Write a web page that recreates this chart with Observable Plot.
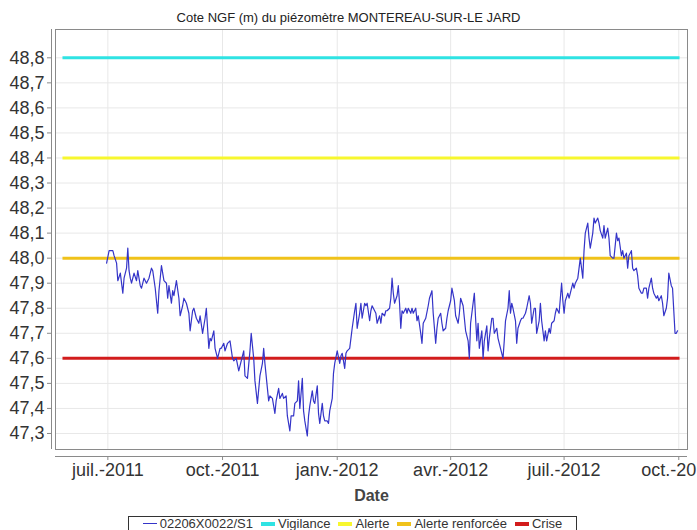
<!DOCTYPE html>
<html>
<head>
<meta charset="utf-8">
<script src="https://cdn.jsdelivr.net/npm/d3@7"></script>
<script src="https://cdn.jsdelivr.net/npm/@observablehq/plot@0.6"></script>
<style>
  html, body { margin: 0; padding: 0; background: #fff; }
  body { font-family: "Liberation Sans", Arial, sans-serif; width: 697px; height: 530px; overflow: hidden; position: relative; }
  #title { height: 24px; box-sizing: border-box; padding-top: 11px; line-height: 14px; text-align: center; font-size: 13px; color: #222; }
  #legend { position: absolute; left: 128px; top: 516px; width: 449px; box-sizing: border-box; border: 1px solid #333; display: flex; justify-content: center; align-items: center; gap: 8px; font-size: 13px; line-height: 13px; color: #333; height: 15px; padding-top: 0; }
  .item { display: flex; align-items: center; gap: 3px; white-space: nowrap; }
  .sym { display: inline-block; width: 14px; }
</style>
</head>
<body>
<div id="title">Cote NGF (m) du piézomètre MONTEREAU-SUR-LE JARD</div>
<div id="chart"></div>
<div id="legend"></div>
<script>
// ---- data ----
const seriesName = "02206X0022/S1";
const seriesStart = "2011-07-01";           // day 0 of the series
const days = [-1,1,3,4,5,7,8,10,12,13,15,16,17,18,19,21,23,24,26,27,29,31,33,35,36,38,40,41,42,43,45,47,48,49,51,52,53,55,57,58,60,61,63,65,66,68,69,71,73,74,76,78,79,81,82,83,85,86,88,89,90,
91,93,94,96,98,100,101,103,105,107,109,110,112,114,115,117,118,120,122,124,125,126,128,129,130,132,134,135,137,138,140,141,143,144,146,147,149,150,152,153,154,156,157,158,160,161,162,164,165,166,168,169,170,172,173,174,176,177,178,180,181,182,
184,186,187,188,190,191,192,194,195,196,198,199,200,202,203,204,206,207,208,210,211,212,214,215,216,218,219,220,222,223,224,226,227,228,229,230,232,233,234,235,236,237,239,240,241,243,244,245,247,248,249,251,252,253,255,257,258,260,261,263,264,265,267,268,269,271,272,273,275,276,
278,279,281,282,283,285,286,287,289,290,291,293,294,295,296,297,298,300,301,302,304,305,306,308,309,310,312,313,314,316,317,318,319,321,322,323,324,325,327,328,329,331,332,333,335,336,338,339,340,342,343,344,346,347,348,350,351,352,354,355,356,358,359,360,362,363,
364,365,366,367,369,370,371,373,374,375,377,378,379,381,382,383,385,386,387,389,390,391,393,394,395,397,398,399,401,402,403,405,406,408,409,410,412,413,414,416,417,418,420,421,422,424,425,426,428,429,430,432,433,434,436,437,438,440,441,442,444,445,446,448,449,450,452,453,454,455,456,457];
const levels = [47.98,48.03,48.03,48.03,48.01,47.98,47.91,47.94,47.86,47.92,47.96,48.04,47.95,47.92,47.90,47.94,47.91,47.95,47.89,47.88,47.92,47.90,47.92,47.96,47.95,47.88,47.78,47.87,47.92,47.97,47.91,47.90,47.84,47.89,47.82,47.87,47.85,47.91,47.84,47.77,47.81,47.84,47.82,47.78,47.71,47.79,47.80,47.76,47.74,47.77,47.70,47.76,47.80,47.64,47.68,47.67,47.71,47.64,47.60,47.62,47.64,
47.64,47.66,47.63,47.66,47.67,47.60,47.59,47.60,47.55,47.59,47.63,47.53,47.52,47.63,47.70,47.60,47.51,47.42,47.53,47.58,47.64,47.58,47.48,47.43,47.45,47.44,47.38,47.43,47.48,47.44,47.46,47.44,47.45,47.37,47.31,47.37,47.37,47.42,47.43,47.51,47.40,47.52,47.39,47.35,47.29,47.37,47.41,47.47,47.43,47.42,47.49,47.38,47.34,47.42,47.37,47.35,47.35,47.34,47.39,47.44,47.54,47.58,
47.63,47.58,47.61,47.62,47.56,47.62,47.63,47.64,47.68,47.72,47.79,47.82,47.72,47.78,47.82,47.76,47.82,47.81,47.82,47.75,47.79,47.81,47.79,47.78,47.74,47.77,47.74,47.78,47.77,47.79,47.79,47.80,47.84,47.92,47.86,47.82,47.85,47.89,47.82,47.72,47.79,47.78,47.80,47.78,47.80,47.78,47.80,47.78,47.80,47.75,47.77,47.70,47.66,47.74,47.76,47.81,47.84,47.87,47.78,47.66,47.72,47.76,47.78,47.74,47.71,47.72,47.76,47.79,47.83,47.88,
47.83,47.77,47.74,47.78,47.84,47.81,47.76,47.71,47.67,47.60,47.74,47.82,47.86,47.76,47.67,47.74,47.64,47.71,47.60,47.67,47.73,47.63,47.68,47.76,47.76,47.70,47.72,47.68,47.66,47.62,47.60,47.67,47.75,47.80,47.87,47.78,47.82,47.80,47.75,47.66,47.72,47.75,47.76,47.76,47.78,47.80,47.85,47.82,47.74,47.80,47.80,47.70,47.75,47.82,47.75,47.67,47.71,47.67,47.72,47.70,47.74,47.75,47.78,47.80,47.78,47.84,
47.90,47.83,47.78,47.83,47.86,47.84,47.86,47.90,47.88,47.90,47.92,47.96,48.00,47.92,48.03,48.10,48.14,48.08,48.04,48.10,48.16,48.14,48.16,48.14,48.11,48.08,48.13,48.08,48.12,48.08,48.01,48.00,48.00,48.10,48.07,48.08,48.01,48.03,48.00,48.02,47.96,48.01,48.03,47.96,47.95,47.96,47.93,47.88,47.86,47.86,47.88,47.88,47.84,47.88,47.92,47.88,47.86,47.84,47.85,47.83,47.85,47.82,47.77,47.80,47.84,47.94,47.89,47.88,47.79,47.70,47.70,47.71];

const thresholdNames  = ["Vigilance", "Alerte", "Alerte renforcée", "Crise"];
const thresholdValues = [48.8, 48.4, 48.0, 47.6];
const thresholdColors = ["#2fe3e3", "#f7f72e", "#f0c21a", "#d21c1c"];
const thresholdStart = "2011-05-26";
const thresholdEnd   = "2012-10-02";

const xTickDates  = ["2011-07-01", "2011-10-01", "2012-01-01", "2012-04-01", "2012-07-01", "2012-10-01"];
const xTickLabels = ["juil.-2011", "oct.-2011", "janv.-2012", "avr.-2012", "juil.-2012", "oct.-2012"];
const yTicks      = [47.3, 47.4, 47.5, 47.6, 47.7, 47.8, 47.9, 48.0, 48.1, 48.2, 48.3, 48.4, 48.5, 48.6, 48.7, 48.8];
const yTickLabels = ["47,3", "47,4", "47,5", "47,6", "47,7", "47,8", "47,9", "48,0", "48,1", "48,2", "48,3", "48,4", "48,5", "48,6", "48,7", "48,8"];
const xDomain = ["2011-05-20", "2012-10-08"];
const yDomain = [47.236, 48.913];
const lineColor = "#3434c8";
const xLabel = "Date";

// ---- build ----
const P = s => d3.utcParse("%Y-%m-%d")(s);
const start = P(seriesStart);
const series = days.map((d, i) => ({date: d3.utcDay.offset(start, d), level: levels[i]}));
const thresholds = thresholdNames.map((n, i) => ({name: n, value: thresholdValues[i], color: thresholdColors[i], start: P(thresholdStart), end: P(thresholdEnd)}));
const xt = xTickDates.map(P);
const xd = xDomain.map(P);
const axisGray = "#8a8a8a";
const gridGray = "#e8e8e8";
const labelColor = "#333";

const chart = Plot.plot({
  width: 697,
  height: 486,
  marginLeft: 55,
  marginRight: 10,
  marginTop: 5,
  marginBottom: 61,
  style: {fontFamily: '"Liberation Sans", Arial, sans-serif', background: "#fff", overflow: "visible"},
  x: {type: "utc", domain: xd},
  y: {domain: yDomain},
  marks: [
    Plot.gridX(xt, {stroke: gridGray, strokeOpacity: 1}),
    Plot.gridY(yTicks, {stroke: gridGray, strokeOpacity: 1}),
    ...thresholds.map(t => Plot.ruleY([t], {y: "value", x1: "start", x2: "end", stroke: t.color, strokeWidth: 3})),
    Plot.line(series, {x: "date", y: "level", stroke: lineColor, strokeWidth: 1.2}),
    Plot.frame({stroke: axisGray}),
    Plot.ruleY([yDomain[0]], {dy: 7, stroke: axisGray}),
    Plot.ruleX([xd[0]], {dx: -4, stroke: axisGray}),
    Plot.axisX(xt, {
      dy: 7, tickSize: 4, tickPadding: 3, fontSize: 18, fill: labelColor, stroke: axisGray, label: null,
      tickFormat: d => xTickLabels[xt.findIndex(t => +t === +d)]
    }),
    Plot.axisY(yTicks, {
      dx: -4, tickSize: 4, tickPadding: 3, fontSize: 18, fill: labelColor, stroke: axisGray, label: null,
      tickFormat: d => yTickLabels[yTicks.indexOf(d)]
    }),
    Plot.text([xLabel], {frameAnchor: "bottom", dy: 51, fontSize: 16, fontWeight: "bold", fill: "#444"})
  ]
});
document.getElementById("chart").appendChild(chart);

// legend
const legendItems = [{name: seriesName, color: lineColor, w: 1}]
  .concat(thresholds.map(t => ({name: t.name, color: t.color, w: 4})));
const lg = document.getElementById("legend");
legendItems.forEach(it => {
  const el = document.createElement("span");
  el.className = "item";
  const s = document.createElement("span");
  s.className = "sym";
  s.style.height = it.w + "px";
  s.style.background = it.color;
  el.appendChild(s);
  el.appendChild(document.createTextNode(it.name));
  lg.appendChild(el);
});
</script>
</body>
</html>
